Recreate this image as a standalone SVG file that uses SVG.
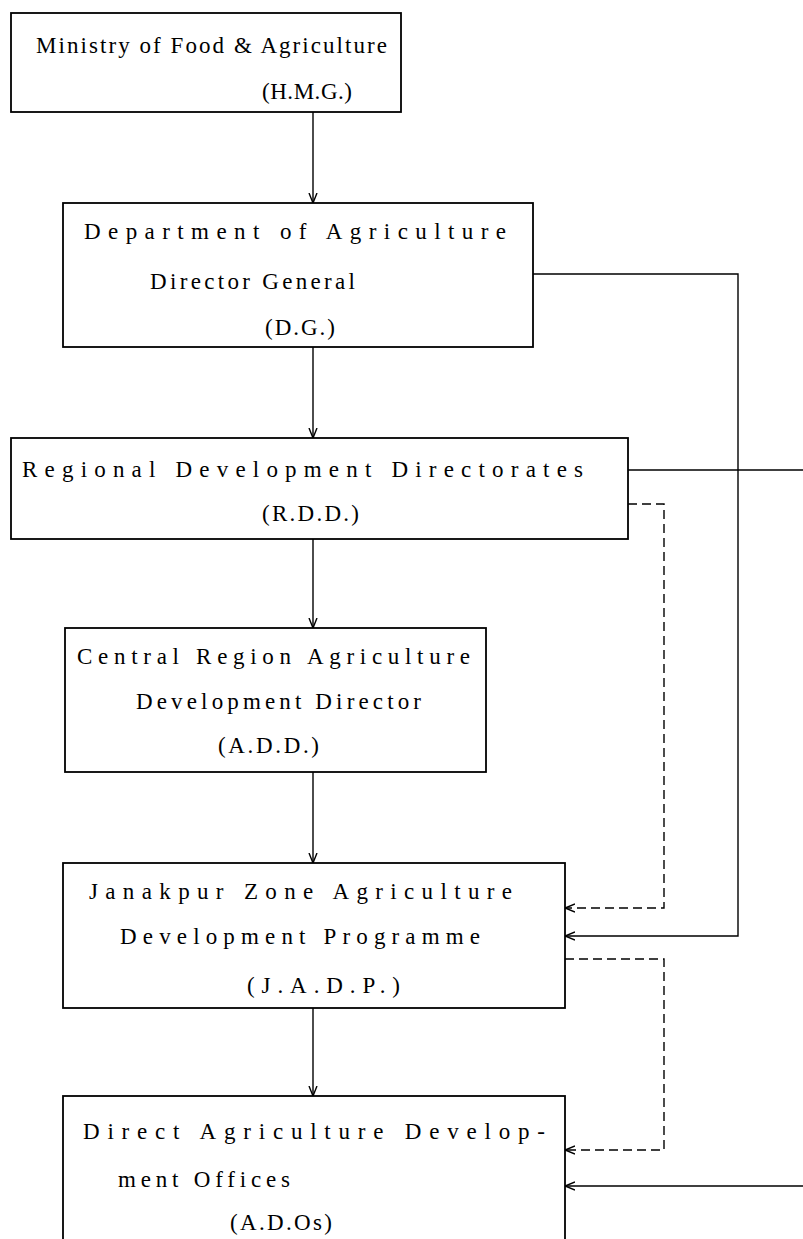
<svg xmlns="http://www.w3.org/2000/svg" width="803" height="1239" viewBox="0 0 803 1239">
<style>
.box{fill:#fff;stroke:#000;stroke-width:1.8}
.t{font-family:"Liberation Serif","DejaVu Serif",serif;font-size:23px;fill:#000}
.c{fill:none;stroke:#000;stroke-width:1.4}
.d{fill:none;stroke:#000;stroke-width:1.4;stroke-dasharray:9 5}
</style>
<defs>
<marker id="ah" viewBox="0 0 10 10" refX="10" refY="5" markerWidth="10" markerHeight="10" markerUnits="userSpaceOnUse" orient="auto">
<polyline points="0,1 10,5 0,9" fill="none" stroke="#000" stroke-width="1.4"/>
</marker>
</defs>
<rect width="803" height="1239" fill="#fff"/>
<g id="connectors">
<line class="c" x1="313" y1="112" x2="313" y2="203" marker-end="url(#ah)"/>
<line class="c" x1="313" y1="347" x2="313" y2="438" marker-end="url(#ah)"/>
<line class="c" x1="313" y1="539" x2="313" y2="628" marker-end="url(#ah)"/>
<line class="c" x1="313" y1="772" x2="313" y2="863" marker-end="url(#ah)"/>
<line class="c" x1="313" y1="1008" x2="313" y2="1096" marker-end="url(#ah)"/>
<polyline class="c" points="533,274 738,274 738,936 565,936" marker-end="url(#ah)"/>
<line class="c" x1="628" y1="470" x2="803" y2="470"/>
<polyline class="d" points="628,504 664,504 664,908 565,908" marker-end="url(#ah)"/>
<polyline class="d" points="565,959 664,959 664,1150 565,1150" marker-end="url(#ah)"/>
<line class="c" x1="803" y1="1186" x2="565" y2="1186" marker-end="url(#ah)"/>
</g>
<g id="n1">
<rect class="box" x="11" y="13" width="390" height="99"/>
<text class="t" x="36" y="53" textLength="351" lengthAdjust="spacing">Ministry of Food &amp; Agriculture</text>
<text class="t" x="262" y="99" textLength="90" lengthAdjust="spacing">(H.M.G.)</text>
</g>
<g id="n2">
<rect class="box" x="63" y="203" width="470" height="144"/>
<text class="t" x="84" y="239" textLength="422" lengthAdjust="spacing">Department of Agriculture</text>
<text class="t" x="150" y="289" textLength="205" lengthAdjust="spacing">Director General</text>
<text class="t" x="265" y="335" textLength="70" lengthAdjust="spacing">(D.G.)</text>
</g>
<g id="n3">
<rect class="box" x="11" y="438" width="617" height="101"/>
<text class="t" x="22" y="477" textLength="561" lengthAdjust="spacing">Regional Development Directorates</text>
<text class="t" x="262" y="521" textLength="97" lengthAdjust="spacing">(R.D.D.)</text>
</g>
<g id="n4">
<rect class="box" x="65" y="628" width="421" height="144"/>
<text class="t" x="77" y="664" textLength="393" lengthAdjust="spacing">Central Region Agriculture</text>
<text class="t" x="136" y="709" textLength="285" lengthAdjust="spacing">Development Director</text>
<text class="t" x="218" y="753" textLength="101" lengthAdjust="spacing">(A.D.D.)</text>
</g>
<g id="n5">
<rect class="box" x="63" y="863" width="502" height="145"/>
<text class="t" x="89" y="899" textLength="423" lengthAdjust="spacing">Janakpur Zone Agriculture</text>
<text class="t" x="120" y="944" textLength="360" lengthAdjust="spacing">Development Programme</text>
<text class="t" x="247" y="993" textLength="153" lengthAdjust="spacing">(J.A.D.P.)</text>
</g>
<g id="n6">
<rect class="box" x="63" y="1096" width="502" height="160"/>
<text class="t" x="83" y="1139" textLength="462" lengthAdjust="spacing">Direct Agriculture Develop-</text>
<text class="t" x="118" y="1187" textLength="172" lengthAdjust="spacing">ment Offices</text>
<text class="t" x="230" y="1230" textLength="102" lengthAdjust="spacing">(A.D.Os)</text>
</g>
</svg>
